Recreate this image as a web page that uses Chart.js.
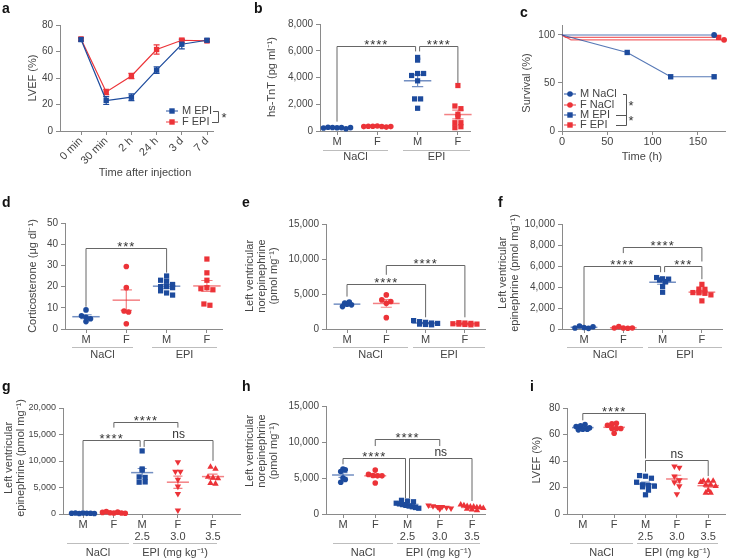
<!DOCTYPE html>
<html>
<head>
<meta charset="utf-8">
<script src="https://cdn.jsdelivr.net/npm/chart.js@4.4.1/dist/chart.umd.min.js"></script>
<style>
  body { margin: 0; background: #fff; }
  #fig { position: relative; width: 729px; height: 560px; overflow: hidden; }
  canvas { position: absolute; }
</style>
</head>
<body>
<div id="fig"></div>
<script>
// ---- a: LVEF after injection ----
const timeLabels = ["0 min", "30 min", "2 h", "24 h", "3 d", "7 d"];
const lvefTicks = [0, 20, 40, 60, 80];
const lvefM = [69, 23, 25.5, 46, 65.5, 68.5];
const lvefMErr = [1.2, 3, 2.5, 2.5, 3.5, 1];
const lvefF = [69.5, 29.5, 41.5, 61.5, 68.5, 68];
const lvefFErr = [1, 2, 2, 3.5, 1.5, 1];

// ---- b: hs-TnT ----
const sexCats = ["M", "F", "M", "F"];
const tntTicks = [0, 2000, 4000, 6000, 8000];
const tntNaClM = [220, 280, 260, 240, 250, 170, 250];
const tntNaClF = [330, 360, 350, 370, 340, 290, 330];
const tntEpiM = [5500, 5300, 4150, 4300, 4300, 3750, 2400, 2400, 1700];
const tntEpiF = [3400, 1870, 1670, 1250, 1070, 620, 620, 250, 320];

// ---- c: survival ----
const survXTicks = [0, 50, 100, 150];
const survYTicks = [0, 50, 100];
const mNaClT = [0, 168], mNaClS = [100, 100];
const fNaClT = [0, 10, 179], fNaClS = [100, 95, 95];
const mEpiT = [0, 72, 120, 168], mEpiS = [100, 81.8, 56.5, 56.5];
const fEpiT = [0, 4, 173], fEpiS = [100, 97.5, 97.5];

// ---- d: corticosterone ----
const cortTicks = [0, 10, 20, 30, 40, 50];
const cortNaClM = [9, 6.2, 5.5, 4.8, 3.5];
const cortNaClF = [29.5, 19.5, 8.5, 8, 2.5];
const cortEpiM = [25, 23, 22.5, 21, 20, 20, 19.5, 18, 17, 16];
const cortEpiF = [33, 26.5, 23, 19, 19.5, 18.5, 11.8, 11.2];

// ---- e: LV norepinephrine ----
const neTicks = [0, 5000, 10000, 15000];
const neNaClM = [3200, 3550, 3700, 3850, 3450];
const neNaClF = [4870, 4160, 3680, 3920, 1620];
const neEpiM = [1200, 1050, 950, 850, 800, 700, 650, 600];
const neEpiF = [900, 850, 800, 750, 700, 650, 600, 700];

// ---- f: LV epinephrine ----
const epTicks = [0, 2000, 4000, 6000, 8000, 10000];
const epNaClM = [100, 280, 150, 60, 220];
const epNaClF = [90, 230, 100, 70, 90];
const epEpiM = [4900, 4780, 4750, 4680, 4520, 4050, 3500];
const epEpiF = [4250, 3800, 3780, 3470, 3450, 3400, 3250, 2680];

// ---- g, h, i: dose groups ----
const doseCats = [["M"], ["F"], ["M", "2.5"], ["F", "3.0"], ["F", "3.5"]];
const gTicks = [0, 5000, 10000, 15000, 20000];
const gNaClM = [150, 200, 100, 180, 120, 150, 100];
const gNaClF = [300, 450, 250, 200, 350, 200, 150];
const gM25 = [11900, 8500, 8300, 7000, 6900, 6000, 6050];
const gF30 = [9800, 8000, 8000, 6500, 5200, 3800, 700];
const gF35 = [8900, 8500, 7000, 6800, 6700, 5800, 5700];

const hTicks = [0, 5000, 10000, 15000];
const hNaClM = [6250, 5900, 6150, 4400, 4800, 5000];
const hNaClF = [6100, 5500, 5350, 5300, 5300, 4300];
const hM25 = [1900, 1800, 1700, 1500, 1400, 1300, 1200, 1100, 1000, 900, 800];
const hF30 = [1200, 1100, 1000, 1000, 900, 800, 700];
const hF35 = [1300, 1200, 1100, 1000, 1000, 900, 900, 800, 700, 600, 500];

const iTicks = [0, 20, 40, 60, 80];
const iNaClM = [66, 66.5, 67.5, 63.5, 64, 64, 65];
const iNaClF = [68, 67, 68.5, 64.5, 64.5, 61, 64.5];
const iM25 = [29, 28.5, 27, 24, 22, 21.5, 21, 20.5, 18, 14.5];
const iF30 = [36, 35, 28.5, 25.5, 24, 21, 15];
const iF35 = [25, 25, 25, 24, 22, 22, 21, 18, 16, 16];

// ---------------------------------------------------------------
const BLUE = "#1d4b9d", RED = "#ec3338";
const TXT = "#444", AXIS = "#8a8a8a", UNDER = "#bdbdbd";
const FONT = "'Liberation Sans', Arial, sans-serif";
Chart.defaults.font.family = FONT;
Chart.defaults.font.size = 11;
Chart.defaults.color = TXT;

const fig = document.getElementById("fig");
const fmt = v => v.toLocaleString("en-US");

function rgba(hex, a) {
  const n = parseInt(hex.slice(1), 16);
  return `rgba(${n >> 16},${(n >> 8) & 255},${n & 255},${a})`;
}
function mean(a) { return a.reduce((s, v) => s + v, 0) / a.length; }
function sem(a) {
  const m = mean(a);
  return Math.sqrt(a.reduce((s, v) => s + (v - m) * (v - m), 0) / (a.length - 1) / a.length);
}

// Prism-like spreading: points in the same vertical bin are spread in a row (offsets in px),
// a row never gets wider than maxW
function swarm(vals, pxY, bin, sp, maxW) {
  const rows = {};
  vals.forEach((v, i) => {
    const k = Math.floor(v * pxY / bin);
    (rows[k] = rows[k] || []).push(i);
  });
  const off = [];
  Object.values(rows).forEach(r => {
    const s = r.length > 1 ? Math.min(sp, maxW / (r.length - 1)) : 0;
    r.forEach((i, j) => { off[i] = (j - (r.length - 1) / 2) * s; });
  });
  return off;
}

function makeCanvas(box) {
  const c = document.createElement("canvas");
  c.width = box.w; c.height = box.h;
  c.style.left = box.x + "px"; c.style.top = box.y + "px";
  c.style.width = box.w + "px"; c.style.height = box.h + "px";
  fig.appendChild(c);
  return c;
}

function yScale(p, max, ticks, f) {
  return {
    min: 0, max: max,
    afterBuildTicks: s => { s.ticks = ticks.map(v => ({ value: v })); },
    ticks: { padding: 3, font: { size: p.tickSize || 10 }, callback: v => f(v) },
    grid: { drawOnChartArea: false, tickLength: 4, color: AXIS },
    border: { color: AXIS },
    afterFit: s => { s.width = p.area.l - p.box.x; s.paddingTop = 0; s.paddingBottom = 0; }
  };
}
function xScale(p, values, labels, extra) {
  return Object.assign({
    type: "linear",
    min: (p.area.l - p.x0) / p.unit, max: (p.area.r - p.x0) / p.unit,
    afterBuildTicks: s => { s.ticks = values.map(v => ({ value: v })); },
    ticks: { autoSkip: false, maxRotation: 0, padding: 1, font: { lineHeight: 1.1 },
             callback: (v, i) => labels[i] },
    grid: { drawOnChartArea: false, tickLength: 4, color: AXIS },
    border: { color: AXIS },
    afterFit: s => { s.height = p.box.y + p.box.h - p.area.b; s.paddingLeft = 0; s.paddingRight = 0; }
  }, extra || {});
}
function baseOptions(p, scales) {
  return {
    responsive: false, animation: false, events: [], devicePixelRatio: 1,
    layout: { padding: { left: 0, top: p.area.t - p.box.y, right: p.box.x + p.box.w - p.area.r, bottom: 0 } },
    plugins: { legend: { display: false }, tooltip: { enabled: false } },
    scales: scales
  };
}

// text helpers used by the annotation plugin
function drawCommon(ctx, p) {
  const X = v => v - p.box.x, Y = v => v - p.box.y;
  ctx.fillStyle = "#111";
  ctx.font = `bold 14px ${FONT}`;
  ctx.textAlign = "left"; ctx.textBaseline = "alphabetic";
  ctx.fillText(p.letter, X(p.letterPos[0]), Y(p.letterPos[1]));
  // y title
  ctx.fillStyle = TXT;
  ctx.font = `11px ${FONT}`;
  ctx.textAlign = "center"; ctx.textBaseline = "middle";
  p.yTitle.lines.forEach((t, k) => {
    ctx.save();
    ctx.translate(X(p.yTitle.x[k]), Y(p.yTitle.y));
    ctx.rotate(-Math.PI / 2);
    ctx.fillText(t, 0, 0);
    ctx.restore();
  });
  if (p.xTitle) ctx.fillText(p.xTitle.t, X(p.xTitle.x), Y(p.xTitle.y));
  // group underlines
  (p.under || []).forEach(u => {
    ctx.strokeStyle = UNDER; ctx.lineWidth = 1;
    ctx.beginPath(); ctx.moveTo(X(u.x1), Y(p.underY) + 0.5); ctx.lineTo(X(u.x2), Y(p.underY) + 0.5); ctx.stroke();
    ctx.fillStyle = TXT;
    ctx.fillText(u.t, X((u.x1 + u.x2) / 2), Y(p.underT));
  });
}

function annotations(p) {
  return {
    id: "annot",
    beforeDatasetsDraw(chart) {
      if (!p.errors) return;
      const ctx = chart.ctx, xs = chart.scales.x, ys = chart.scales.y;
      ctx.save();
      p.errors.forEach(e => {
        ctx.strokeStyle = e.color; ctx.lineWidth = 1.2;
        e.vals.forEach((v, i) => {
          const x = xs.getPixelForValue(i);
          const y1 = ys.getPixelForValue(v - e.err[i]), y2 = ys.getPixelForValue(v + e.err[i]);
          ctx.beginPath();
          ctx.moveTo(x, y1); ctx.lineTo(x, y2);
          ctx.moveTo(x - 3, y1); ctx.lineTo(x + 3, y1);
          ctx.moveTo(x - 3, y2); ctx.lineTo(x + 3, y2);
          ctx.stroke();
        });
      });
      ctx.restore();
    },
    afterDatasetsDraw(chart) {
      const ctx = chart.ctx, xs = chart.scales.x, ys = chart.scales.y;
      const X = v => v - p.box.x, Y = v => v - p.box.y;
      ctx.save();
      // mean +/- SEM
      (p.groups || []).forEach((g, i) => {
        const cx = xs.getPixelForValue(p.slots[i]);
        const m = mean(g.vals), se = sem(g.vals);
        const hw = 0.34 * p.unit, sw = 0.14 * p.unit;
        const ym = ys.getPixelForValue(m), ya = ys.getPixelForValue(m - se), yb = ys.getPixelForValue(m + se);
        ctx.strokeStyle = rgba(g.color, 0.62);
        ctx.lineWidth = 1.5;
        ctx.beginPath(); ctx.moveTo(cx - hw, ym); ctx.lineTo(cx + hw, ym); ctx.stroke();
        ctx.lineWidth = 1.2;
        ctx.beginPath();
        ctx.moveTo(cx, ya); ctx.lineTo(cx, yb);
        ctx.moveTo(cx - sw, ya); ctx.lineTo(cx + sw, ya);
        ctx.moveTo(cx - sw, yb); ctx.lineTo(cx + sw, yb);
        ctx.stroke();
      });
      // significance brackets
      (p.brackets || []).forEach(b => {
        const x1 = xs.getPixelForValue(p.slots[b.a]) + (b.da || 0);
        const x2 = xs.getPixelForValue(p.slots[b.b]) + (b.db || 0);
        const yy = Math.round(ys.getPixelForValue(b.y)) + 0.5;
        ctx.strokeStyle = "#666"; ctx.lineWidth = 1;
        ctx.beginPath();
        ctx.moveTo(x1, ys.getPixelForValue(b.ya)); ctx.lineTo(x1, yy);
        ctx.lineTo(x2, yy); ctx.lineTo(x2, ys.getPixelForValue(b.yb));
        ctx.stroke();
        ctx.fillStyle = "#333";
        ctx.textAlign = "center"; ctx.textBaseline = "alphabetic";
        if (b.t === "ns") {
          ctx.font = `12px ${FONT}`;
          ctx.fillText(b.t, (x1 + x2) / 2, yy - 3);
        } else {
          ctx.font = `13px ${FONT}`;
          ctx.letterSpacing = "1px";
          ctx.fillText(b.t, (x1 + x2) / 2, yy + 2);
          ctx.letterSpacing = "0px";
        }
      });
      drawCommon(ctx, p);
      // legend
      (p.legend || []).forEach(l => {
        ctx.strokeStyle = rgba(l.color, 0.8); ctx.lineWidth = 1.2;
        ctx.beginPath(); ctx.moveTo(X(l.x - 6), Y(l.y)); ctx.lineTo(X(l.x + 6), Y(l.y)); ctx.stroke();
        ctx.fillStyle = l.color;
        if (l.shape === "rect") ctx.fillRect(X(l.x) - 2.7, Y(l.y) - 2.7, 5.4, 5.4);
        else { ctx.beginPath(); ctx.arc(X(l.x), Y(l.y), 2.8, 0, Math.PI * 2); ctx.fill(); }
        ctx.fillStyle = TXT; ctx.font = `11px ${FONT}`;
        ctx.textAlign = "left"; ctx.textBaseline = "middle";
        ctx.fillText(l.t, X(l.x + 10), Y(l.y));
      });
      (p.legendMarks || []).forEach(m => {
        ctx.strokeStyle = "#555"; ctx.lineWidth = 1;
        ctx.beginPath();
        m.path.forEach((pt, k) => k ? ctx.lineTo(X(pt[0]), Y(pt[1])) : ctx.moveTo(X(pt[0]), Y(pt[1])));
        ctx.stroke();
      });
      (p.legendStars || []).forEach(s => {
        ctx.fillStyle = "#333"; ctx.font = `13px ${FONT}`;
        ctx.textAlign = "center"; ctx.textBaseline = "middle";
        ctx.fillText("*", X(s[0]), Y(s[1]) + 2);
      });
      ctx.restore();
    }
  };
}

const SHAPES = {
  circle: { style: "circle", r: 2.8, rot: 0, bin: 5, sp: 4.5 },
  rect: { style: "rect", r: 3.7, rot: 0, bin: 5.5, sp: 6 },
  up: { style: "triangle", r: 3.7, rot: 0, bin: 5.5, sp: 5 },
  down: { style: "triangle", r: 3.7, rot: 180, bin: 5.5, sp: 5 }
};

function dotPanel(p) {
  const c = makeCanvas(p.box);
  const yMax = p.yTicks[p.yTicks.length - 1];
  const pxY = (p.area.b - p.area.t) / yMax;
  const datasets = p.groups.map((g, i) => {
    const s = SHAPES[g.shape];
    const off = swarm(g.vals, pxY, s.bin, s.sp, 0.7 * p.unit);
    return {
      data: g.vals.map((v, j) => ({ x: p.slots[i] + off[j] / p.unit, y: v })),
      pointStyle: s.style, pointRotation: s.rot, pointRadius: s.r,
      pointBackgroundColor: g.color, pointBorderWidth: 0, clip: false
    };
  });
  new Chart(c, {
    type: "scatter",
    data: { datasets: datasets },
    options: baseOptions(p, {
      x: xScale(p, p.slots, p.cats),
      y: yScale(p, yMax, p.yTicks, fmt)
    }),
    plugins: [annotations(p)]
  });
}

// ---- panel a ----
(function () {
  const p = {
    letter: "a", letterPos: [2, 12.7],
    box: { x: 0, y: 0, w: 240, h: 185 }, area: { l: 60, t: 25, r: 213, b: 131 }, x0: 81, unit: 25.2,
    yTitle: { x: [33], y: 78, lines: ["LVEF (%)"] },
    xTitle: { t: "Time after injection", x: 145, y: 173 },
    errors: [{ vals: lvefM, err: lvefMErr, color: BLUE }, { vals: lvefF, err: lvefFErr, color: RED }],
    legend: [{ t: "M EPI", color: BLUE, shape: "rect", x: 172, y: 111 },
             { t: "F EPI", color: RED, shape: "rect", x: 172, y: 122 }],
    legendMarks: [{ path: [[213, 111.5], [218.5, 111.5], [218.5, 122.5], [212, 122.5]] }],
    legendStars: [[224, 116]]
  };
  const c = makeCanvas(p.box);
  const idx = timeLabels.map((t, i) => i);
  const line = (vals, color) => ({
    data: vals.map((v, i) => ({ x: i, y: v })), showLine: true,
    borderColor: color, borderWidth: 1.2, pointStyle: "rect", pointRadius: 3.8,
    pointBackgroundColor: color, pointBorderWidth: 0, clip: false
  });
  new Chart(c, {
    type: "scatter",
    data: { datasets: [line(lvefM, BLUE), line(lvefF, RED)] },
    options: baseOptions(p, {
      x: xScale(p, idx, timeLabels, {}),
      y: yScale(p, 80, lvefTicks, v => v)
    }),
    plugins: [annotations(p)]
  });
  const opts = Chart.getChart(c).options.scales.x.ticks;
  opts.minRotation = 45; opts.maxRotation = 45; opts.padding = 0;
  Chart.getChart(c).update();
})();

// ---- panel b ----
dotPanel({
  letter: "b", letterPos: [254, 13.3],
  box: { x: 240, y: 0, w: 240, h: 185 }, area: { l: 320, t: 24, r: 470, b: 131 },
  x0: 337, unit: 40.3, slots: [0, 1, 2, 3], cats: sexCats, yTicks: tntTicks,
  groups: [
    { vals: tntNaClM, color: BLUE, shape: "circle" },
    { vals: tntNaClF, color: RED, shape: "circle" },
    { vals: tntEpiM, color: BLUE, shape: "rect" },
    { vals: tntEpiF, color: RED, shape: "rect" }],
  brackets: [{ a: 0, b: 2, y: 6325, ya: 700, yb: 5950, t: "****", db: -2 },
             { a: 2, b: 3, y: 6325, ya: 5950, yb: 3575, t: "****", da: 2 }],
  under: [{ x1: 323, x2: 388, t: "NaCl" }, { x1: 403, x2: 470, t: "EPI" }], underY: 150, underT: 157,
  yTitle: { x: [272], y: 77, lines: ["hs-TnT (pg ml\u207B\u00B9)"] }
});

// ---- panel c ----
(function () {
  const p = {
    letter: "c", letterPos: [520, 16.7],
    box: { x: 480, y: 0, w: 249, h: 185 }, area: { l: 562, t: 25, r: 728, b: 131 }, x0: 562, unit: 0.92,
    yTitle: { x: [527], y: 83, lines: ["Survival (%)"] },
    xTitle: { t: "Time (h)", x: 642, y: 157 },
    legend: [{ t: "M NaCl", color: BLUE, shape: "circle", x: 570, y: 94 },
             { t: "F NaCl", color: RED, shape: "circle", x: 570, y: 105 },
             { t: "M EPI", color: BLUE, shape: "rect", x: 570, y: 115 },
             { t: "F EPI", color: RED, shape: "rect", x: 570, y: 125 }],
    legendMarks: [{ path: [[623, 94.5], [626.5, 94.5], [626.5, 125.5], [616, 125.5]] },
                  { path: [[616, 115.5], [626.5, 115.5]] }],
    legendStars: [[631, 104], [631, 119]]
  };
  const c = makeCanvas(p.box);
  const series = (ts, ss, color, shape, marks) => ({
    data: ts.map((t, i) => ({ x: t, y: ss[i] })), showLine: true,
    borderColor: rgba(color, 0.75), borderWidth: 1.2,
    pointStyle: shape, pointBackgroundColor: color, pointBorderWidth: 0,
    pointRadius: ctx => marks.includes(ctx.dataIndex) ? (shape === "rect" ? 3.8 : 2.9) : 0,
    clip: false
  });
  new Chart(c, {
    type: "scatter",
    data: { datasets: [
      series(mNaClT, mNaClS, BLUE, "circle", [1]),
      series(mEpiT, mEpiS, BLUE, "rect", [1, 2, 3]),
      series(fEpiT, fEpiS, RED, "rect", [2]),
      series(fNaClT, fNaClS, RED, "circle", [2])
    ] },
    options: baseOptions(p, {
      x: Object.assign(xScale(p, survXTicks, survXTicks), { min: 0, max: 180 }),
      y: yScale(p, 110.4, survYTicks, v => v)
    }),
    plugins: [annotations(p)]
  });
})();

// ---- panel d ----
dotPanel({
  letter: "d", letterPos: [2, 206.7],
  box: { x: 0, y: 185, w: 240, h: 185 }, area: { l: 65, t: 223, r: 222, b: 329 },
  x0: 86, unit: 40.3, slots: [0, 1, 2, 3], cats: sexCats, yTicks: cortTicks,
  groups: [
    { vals: cortNaClM, color: BLUE, shape: "circle" },
    { vals: cortNaClF, color: RED, shape: "circle" },
    { vals: cortEpiM, color: BLUE, shape: "rect" },
    { vals: cortEpiF, color: RED, shape: "rect" }],
  brackets: [{ a: 0, b: 2, y: 38.2, ya: 10.5, yb: 26.6, t: "***" }],
  under: [{ x1: 72, x2: 133, t: "NaCl" }, { x1: 152, x2: 217, t: "EPI" }], underY: 347, underT: 355,
  yTitle: { x: [33], y: 276, lines: ["Corticosterone (\u03BCg dl\u207B\u00B9)"] }
});

// ---- panel e ----
dotPanel({
  letter: "e", letterPos: [242, 206.7],
  box: { x: 240, y: 185, w: 250, h: 185 }, area: { l: 326, t: 224, r: 485, b: 329 },
  x0: 347, unit: 39.3, slots: [0, 1, 2, 3], cats: sexCats, yTicks: neTicks,
  groups: [
    { vals: neNaClM, color: BLUE, shape: "circle" },
    { vals: neNaClF, color: RED, shape: "circle" },
    { vals: neEpiM, color: BLUE, shape: "rect" },
    { vals: neEpiF, color: RED, shape: "rect" }],
  brackets: [{ a: 0, b: 2, y: 6450, ya: 4630, yb: 1670, t: "****" },
             { a: 1, b: 3, y: 9076, ya: 7740, yb: 1670, t: "****" }],
  under: [{ x1: 333, x2: 408, t: "NaCl" }, { x1: 413, x2: 485, t: "EPI" }], underY: 347, underT: 355,
  yTitle: { x: [250, 262, 274], y: 276, lines: ["Left ventricular", "norepinephrine", "(pmol mg\u207B\u00B9)"] }
});

// ---- panel f ----
dotPanel({
  letter: "f", letterPos: [498, 206.7],
  box: { x: 480, y: 185, w: 249, h: 185 }, area: { l: 562, t: 224, r: 722, b: 329 },
  x0: 584, unit: 39.3, slots: [0, 1, 2, 3], cats: sexCats, yTicks: epTicks,
  groups: [
    { vals: epNaClM, color: BLUE, shape: "circle" },
    { vals: epNaClF, color: RED, shape: "circle" },
    { vals: epEpiM, color: BLUE, shape: "rect" },
    { vals: epEpiF, color: RED, shape: "rect" }],
  brackets: [{ a: 0, b: 2, y: 6020, ya: 380, yb: 5410, t: "****", db: -2 },
             { a: 2, b: 3, y: 6020, ya: 5410, yb: 4745, t: "***", da: 2 },
             { a: 1, b: 3, y: 7770, ya: 7230, yb: 6430, t: "****" }],
  under: [{ x1: 567, x2: 643, t: "NaCl" }, { x1: 648, x2: 722, t: "EPI" }], underY: 347, underT: 355,
  yTitle: { x: [503, 515], y: 273, lines: ["Left ventricular", "epinephrine (pmol mg\u207B\u00B9)"] }
});

// ---- panel g ----
dotPanel({
  letter: "g", letterPos: [2, 390.5], tickSize: 9,
  box: { x: 0, y: 370, w: 245, h: 190 }, area: { l: 63, t: 408, r: 240, b: 514 },
  x0: 83, unit: 32.5, slots: [0, 0.95, 1.82, 2.92, 4.0], cats: doseCats, yTicks: gTicks,
  groups: [
    { vals: gNaClM, color: BLUE, shape: "circle" },
    { vals: gNaClF, color: RED, shape: "circle" },
    { vals: gM25, color: BLUE, shape: "rect" },
    { vals: gF30, color: RED, shape: "down" },
    { vals: gF35, color: RED, shape: "up" }],
  brackets: [{ a: 0, b: 2, y: 13920, ya: 750, yb: 12665, t: "****", db: -2 },
             { a: 2, b: 4, y: 13920, ya: 12665, yb: 10030, t: "ns", da: 2 },
             { a: 1, b: 3, y: 17370, ya: 16300, yb: 16300, t: "****" }],
  under: [{ x1: 67, x2: 129, t: "NaCl" }, { x1: 133, x2: 217, t: "EPI (mg kg\u207B\u00B9)" }], underY: 543, underT: 553,
  yTitle: { x: [9, 21], y: 458, lines: ["Left ventricular", "epinephrine (pmol mg\u207B\u00B9)"] }
});

// ---- panel h ----
dotPanel({
  letter: "h", letterPos: [242, 390.5],
  box: { x: 240, y: 370, w: 250, h: 190 }, area: { l: 326, t: 406, r: 485, b: 514 },
  x0: 343, unit: 32.25, slots: [0, 1, 2, 3, 4], cats: doseCats, yTicks: hTicks,
  groups: [
    { vals: hNaClM, color: BLUE, shape: "circle" },
    { vals: hNaClF, color: RED, shape: "circle" },
    { vals: hM25, color: BLUE, shape: "rect" },
    { vals: hF30, color: RED, shape: "down" },
    { vals: hF35, color: RED, shape: "up" }],
  brackets: [{ a: 0, b: 2, y: 7730, ya: 6900, yb: 2180, t: "****", db: -2 },
             { a: 2, b: 4, y: 7730, ya: 2180, yb: 1800, t: "ns", da: 2 },
             { a: 1, b: 3, y: 10370, ya: 9440, yb: 9440, t: "****" }],
  under: [{ x1: 333, x2: 393, t: "NaCl" }, { x1: 397, x2: 480, t: "EPI (mg kg\u207B\u00B9)" }], underY: 543, underT: 553,
  yTitle: { x: [250, 262, 274], y: 451, lines: ["Left ventricular", "norepinephrine", "(pmol mg\u207B\u00B9)"] }
});

// ---- panel i ----
dotPanel({
  letter: "i", letterPos: [530, 390.5],
  box: { x: 480, y: 370, w: 249, h: 190 }, area: { l: 567, t: 408, r: 727, b: 514 },
  x0: 583, unit: 31.75, slots: [0, 1, 2, 3, 4], cats: doseCats, yTicks: iTicks,
  groups: [
    { vals: iNaClM, color: BLUE, shape: "circle" },
    { vals: iNaClF, color: RED, shape: "circle" },
    { vals: iM25, color: BLUE, shape: "rect" },
    { vals: iF30, color: RED, shape: "down" },
    { vals: iF35, color: RED, shape: "up" }],
  brackets: [{ a: 0, b: 2, y: 76.5, ya: 70.7, yb: 41.9, t: "****" },
             { a: 2, b: 4, y: 41.1, ya: 31.9, yb: 28.6, t: "ns" }],
  under: [{ x1: 570, x2: 633, t: "NaCl" }, { x1: 637, x2: 718, t: "EPI (mg kg\u207B\u00B9)" }], underY: 543, underT: 553,
  yTitle: { x: [537], y: 460, lines: ["LVEF (%)"] }
});
</script>
</body>
</html>
